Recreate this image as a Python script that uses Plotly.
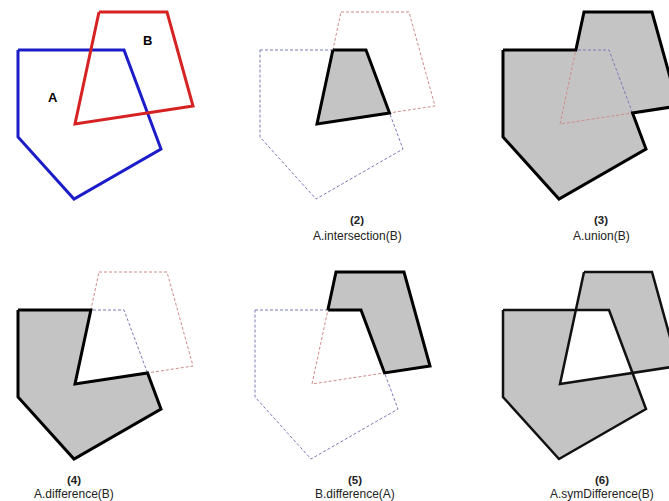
import plotly.graph_objects as go

# Polygon vertices (base panel coordinates)
A_x = [18, 124, 161, 74, 18]
A_y = [50, 50, 149, 199, 137]
B_x = [99, 167, 193, 75]
B_y = [12, 12, 106, 124]

labels = ["A", "B"]
label_pos = [(53, 97), (147, 40)]

captions_num = ["(2)", "(3)", "(4)", "(5)", "(6)"]
captions_txt = ["A.intersection(B)", "A.union(B)", "A.difference(B)",
                "B.difference(A)", "A.symDifference(B)"]

A = list(zip(A_x, A_y))
B = list(zip(B_x, B_y))


def seg_int(p1, p2, p3, p4):
    x1, y1 = p1; x2, y2 = p2; x3, y3 = p3; x4, y4 = p4
    d = (x1 - x2) * (y3 - y4) - (y1 - y2) * (x3 - x4)
    t = ((x1 - x3) * (y3 - y4) - (y1 - y3) * (x3 - x4)) / d
    return (x1 + t * (x2 - x1), y1 + t * (y2 - y1))


I1 = seg_int(A[0], A[1], B[0], B[3])
I2 = seg_int(A[1], A[2], B[2], B[3])

P_inter = [I1, A[1], I2, B[3]]
P_union = [A[0], I1, B[0], B[1], B[2], I2, A[2], A[3], A[4]]
P_adiff = [A[0], I1, B[3], I2, A[2], A[3], A[4]]
P_bdiff = [I1, B[0], B[1], B[2], I2, A[1]]

BLUE = "#1c1cc8"
RED = "#d62222"
GRAY = "#c4c4c4"
DBLUE = "#7a7ab8"
DRED = "#d08a8a"

fig = go.Figure()


def poly(pts, dx, dy, color=None, width=0, dash=None, fill=None):
    xs = [p[0] + dx for p in pts] + [pts[0][0] + dx]
    ys = [p[1] + dy for p in pts] + [pts[0][1] + dy]
    kw = dict(x=xs, y=ys, mode="lines", hoverinfo="skip", showlegend=False)
    if fill:
        kw["fill"] = "toself"
        kw["fillcolor"] = fill
    if width:
        kw["line"] = dict(color=color, width=width, dash=dash)
    else:
        kw["line"] = dict(color="rgba(0,0,0,0)", width=0)
    fig.add_trace(go.Scatter(**kw))


def dashed(dx, dy):
    poly(A, dx, dy, DBLUE, 1, "3px,2px")
    poly(B, dx, dy, DRED, 1, "3px,2px")


# Panel 1
poly(A, 0, 0, BLUE, 3)
poly(B, 0, 0, RED, 3)

# Panel 2: intersection
d2 = (242, 0)
poly(P_inter, *d2, fill=GRAY)
dashed(*d2)
poly(P_inter, *d2, "black", 3)

# Panel 3: union
d3 = (485, 0)
poly(P_union, *d3, fill=GRAY)
dashed(*d3)
poly(P_union, *d3, "black", 3)

# Panel 4: A.difference(B)
d4 = (0, 260)
poly(P_adiff, *d4, fill=GRAY)
dashed(*d4)
poly(P_adiff, *d4, "black", 3)

# Panel 5: B.difference(A)
d5 = (237, 260)
poly(P_bdiff, *d5, fill=GRAY)
dashed(*d5)
poly(P_bdiff, *d5, "black", 3)

# Panel 6: symDifference
d6 = (485, 260)
poly(P_adiff, *d6, fill=GRAY)
poly(P_bdiff, *d6, fill=GRAY)
poly(A, *d6, "#111111", 2.5)
poly(B, *d6, "#111111", 2.5)

FONT = "Liberation Sans, Arial, sans-serif"
ann = []
for lab, (lx, ly) in zip(labels, label_pos):
    ann.append(dict(x=lx, y=ly, text="<b>%s</b>" % lab, showarrow=False,
                    font=dict(size=13, color="black", family=FONT)))

cap_pos = [(357, 220, 236), (601, 220, 236), (74, 480, 494),
           (355, 480, 494), (602, 480, 494)]
for num, txt, (cx, y1, y2) in zip(captions_num, captions_txt, cap_pos):
    ann.append(dict(x=cx, y=y1, text="<b>%s</b>" % num, showarrow=False,
                    font=dict(size=11.5, color="#222222", family=FONT)))
    ann.append(dict(x=cx, y=y2, text=txt, showarrow=False,
                    font=dict(size=12, color="#222222", family=FONT)))

fig.update_layout(
    width=669, height=501,
    margin=dict(l=0, r=0, t=0, b=0),
    paper_bgcolor="white", plot_bgcolor="white",
    xaxis=dict(range=[0, 669], visible=False, fixedrange=True),
    yaxis=dict(range=[501, 0], visible=False, fixedrange=True),
    annotations=ann,
)

fig.write_html("out.html", config={"displayModeBar": False},
               post_script="document.body.style.margin='0';document.body.style.overflow='hidden';")
